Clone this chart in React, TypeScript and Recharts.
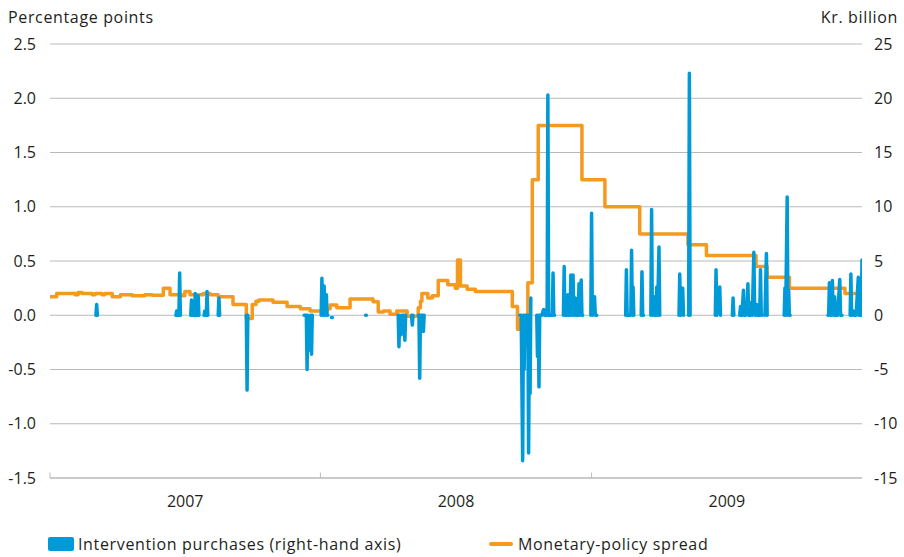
import {
  ComposedChart,
  Line,
  XAxis,
  YAxis,
  CartesianGrid,
  ReferenceLine,
} from 'recharts';

// x values are days counted from 1 January 2007
const years = ['2007', '2008', '2009'];
const yearStarts = [0, 365, 731, 1096];

const leftTicks = [-1.5, -1, -0.5, 0, 0.5, 1, 1.5, 2, 2.5];
const rightTicks = [-15, -10, -5, 0, 5, 10, 15, 20, 25];

// Monetary-policy spread, percentage points (step series)
const spreadDays = [
  0, 9, 34, 38, 43, 57, 61, 70, 74, 84, 95, 111, 128, 138, 153, 162, 178, 182,
  189, 207, 216, 227, 247, 265, 273, 278, 282, 301, 320, 338, 351, 374, 378,
  387, 405, 436, 443, 450, 459, 468, 482, 497, 500, 502, 510, 516, 524, 537,
  547, 550, 554, 563, 574, 624, 631, 635, 640, 645, 651, 659, 718, 749, 796,
  861, 886, 953, 968, 998, 1073, 1096,
];
const spreadValues = [
  0.17, 0.2, 0.19, 0.21, 0.2, 0.19, 0.2, 0.19, 0.2, 0.17, 0.19, 0.18, 0.19,
  0.185, 0.25, 0.19, 0.18, 0.22, 0.19, 0.2, 0.19, 0.17, 0.1, -0.03, 0.1, 0.13,
  0.14, 0.12, 0.08, 0.06, 0.04, 0.06, 0.095, 0.07, 0.15, 0.125, 0.03, 0.04,
  0.01, 0.04, -0.01, 0.07, 0.13, 0.2, 0.16, 0.18, 0.32, 0.28, 0.25, 0.51,
  0.27, 0.24, 0.22, 0.08, -0.13, -0.04, -0.08, 0.3, 1.25, 1.75, 1.25, 1.0,
  0.75, 0.65, 0.55, 0.45, 0.35, 0.25, 0.2, 0.2,
];

// Intervention purchases, kr. billion; each inner list is one run of trading days
const interventionSegments: [number, number][][] = [
  [[62, 0], [63, 1.0], [64, 0]],
  [[170, 0], [171, 0.4], [172, 0], [174, 0], [175, 3.9], [176, 0]],
  [[190, 0], [191, 1.4], [192, 0], [195, 0], [196, 2.0], [197, 0], [199, 0], [200, 1.8], [201, 0]],
  [[208, 0], [209, 0.4], [210, 0.4], [211, 0], [212, 2.2], [213, 0]],
  [[227, 0], [228, 1.6], [229, 0]],
  [[265, 0], [266, -6.9], [267, 0]],
  [[343, 0], [344, 0], [346, 0], [347, -5.0], [348, 0], [350, -2.6], [351, -3.2], [352, 0], [353, -3.6], [354, 0]],
  [[366, 0], [367, 3.4], [368, 0.2], [369, 0], [370, 2.7], [371, 0], [373, 1.9], [374, 0], [375, 0]],
  [[380, -0.2], [381, -0.2]],
  [[426, 0], [427, 0]],
  [[470, 0], [471, -2.9], [472, 0], [474, -1.8], [475, 0], [478, 0], [479, -2.3], [480, 0]],
  [[488, 0], [489, -0.9], [490, 0]],
  [[497, 0], [498, 0], [499, -5.8], [500, 0], [503, 0], [504, -1.5], [505, 0]],
  [[634, 0], [636, 0], [638, -13.4], [639, 0], [640, -5.0], [641, 0], [645, 0], [646, -12.7], [647, -2.0], [648, -7.2], [649, 1.6]],
  [[657, 0], [658, -3.8], [659, 0], [660, -6.6], [661, 0], [664, 0], [666, 0.5], [667, 0.5], [668, 0], [671, 0], [672, 20.3], [673, 0], [678, 0], [679, 3.9], [680, 0], [681, 0]],
  [[693, 0], [694, 4.5], [695, 0], [698, 0], [699, 1.9], [700, 0], [702, 0], [703, 3.7], [704, 0], [706, 3.7], [707, 0], [709, 1.6], [710, 0], [713, 0], [714, 2.9], [715, 0], [717, 3.25], [718, 0], [719, 0]],
  [[730, 0], [731, 9.4], [732, 0], [735, 1.7], [736, 0], [738, 0]],
  [[777, 0], [778, 4.2], [779, 0], [781, 0], [784, 0], [785, 6.0], [786, 0], [787, 2.6], [788, 0]],
  [[798, 0], [799, 4.0], [800, 0], [801, 0]],
  [[811, 0], [812, 9.75], [813, 0], [815, 1.7], [816, 0], [818, 0], [819, 2.6], [820, 0], [822, 6.3], [823, 0]],
  [[849, 0], [850, 3.8], [851, 0], [854, 2.5], [855, 0]],
  [[862, 0], [863, 22.3], [864, 0]],
  [[898, 0], [899, 4.2], [900, 0], [904, 2.6], [905, 0]],
  [[921, 0], [922, 1.6], [923, 0]],
  [[931, 0], [932, 0.8], [933, 0.8], [934, 0], [936, 2.3], [937, 0], [939, 0], [941, 0.8], [942, 2.9], [943, 0], [946, 0], [947, 1.2], [948, 0], [950, 5.8], [951, 1.0], [952, 0], [954, 1.0], [955, 0], [958, 0], [959, 4.2], [960, 0], [961, 0]],
  [[965, 0], [967, 5.7], [968, 0]],
  [[991, 0], [992, 2.5], [993, 0], [995, 10.9], [996, 0], [997, 2.3], [998, 0], [999, 0]],
  [[1050, 0], [1051, 0], [1052, 3.0], [1053, 0], [1055, 0], [1056, 3.2], [1057, 0], [1059, 1.7], [1060, 0], [1063, 0], [1066, 3.3], [1067, 0], [1069, 0]],
  [[1080, 0], [1081, 3.8], [1082, 0], [1084, 0.4], [1085, 0], [1088, 0], [1091, 3.5], [1092, 0], [1095, 0], [1096, 5.1]],
];

const BLUE = '#009ad8';
const ORANGE = '#f49a1e';
const GRID = '#b9b9b9';
const TEXT = '#231f20';
const FONT = "'Open Sans', 'Noto Sans', sans-serif";
const LABEL_SPACING = '0.65px';

const spreadData = spreadDays.map((day, i) => ({ day, spread: spreadValues[i] }));

const interventionData = interventionSegments.flatMap((seg) => [
  ...seg.map(([day, value]) => ({ day, purchases: value as number | null })),
  { day: seg[seg.length - 1][0] + 0.5, purchases: null },
]);

const yearMids = years.map((_, i) => (yearStarts[i] + yearStarts[i + 1]) / 2);

export default function App() {
  return (
    <div
      style={{
        position: 'absolute',
        left: 0,
        top: 0,
        width: 904,
        height: 557,
        background: '#fff',
        fontFamily: FONT,
        color: TEXT,
      }}
    >
      <ComposedChart
        width={904}
        height={557}
        margin={{ top: 44, right: 0, bottom: 49, left: 0 }}
      >
        <CartesianGrid
          yAxisId="left"
          horizontal
          vertical={false}
          stroke={GRID}
          strokeWidth={1}
        />
        <XAxis
          dataKey="day"
          type="number"
          domain={[0, 1096]}
          ticks={yearMids}
          tickFormatter={(v: number) => years[yearMids.indexOf(v)] ?? ''}
          tickLine={false}
          axisLine={{ stroke: GRID }}
          tickSize={6}
          tickMargin={12}
          height={30}
          allowDataOverflow
          tick={{ fill: TEXT, fontSize: 16, fontFamily: FONT }}
        />
        <YAxis
          yAxisId="left"
          orientation="left"
          width={50}
          domain={[-1.5, 2.5]}
          ticks={leftTicks}
          tickFormatter={(v: number) => v.toFixed(1)}
          axisLine={false}
          tickLine={false}
          tickMargin={8}
          allowDataOverflow
          tick={{ fill: TEXT, fontSize: 16, fontFamily: FONT }}
        />
        <YAxis
          yAxisId="right"
          orientation="right"
          width={42}
          domain={[-15, 25]}
          ticks={rightTicks}
          axisLine={false}
          tickLine={false}
          tickMargin={6}
          allowDataOverflow
          tick={{ fill: TEXT, fontSize: 16, fontFamily: FONT, textAnchor: 'start' }}
        />
        {yearStarts.slice(0, 3).map((d) => (
          <ReferenceLine
            key={d}
            yAxisId="left"
            segment={[
              { x: d, y: -1.5 },
              { x: d, y: -1.45 },
            ]}
            stroke={GRID}
            strokeWidth={1}
          />
        ))}
        <Line
          yAxisId="left"
          data={spreadData}
          dataKey="spread"
          type="stepAfter"
          stroke={ORANGE}
          strokeWidth={3.5}
          strokeLinejoin="round"
          dot={false}
          activeDot={false}
          isAnimationActive={false}
        />
        <Line
          yAxisId="right"
          data={interventionData}
          dataKey="purchases"
          type="linear"
          stroke={BLUE}
          strokeWidth={3.5}
          strokeLinecap="round"
          strokeLinejoin="round"
          connectNulls={false}
          dot={false}
          activeDot={false}
          isAnimationActive={false}
        />
      </ComposedChart>

      <div style={{ position: 'absolute', left: 8, top: 6, fontSize: 16, letterSpacing: LABEL_SPACING }}>
        Percentage points
      </div>
      <div style={{ position: 'absolute', right: 6, top: 6, fontSize: 16, letterSpacing: LABEL_SPACING }}>
        Kr. billion
      </div>

      <div
        style={{
          position: 'absolute',
          left: 48,
          top: 537,
          width: 26,
          height: 14,
          background: BLUE,
          borderRadius: 2,
        }}
      />
      <div style={{ position: 'absolute', left: 78, top: 533, fontSize: 16, letterSpacing: LABEL_SPACING }}>
        Intervention purchases (right-hand axis)
      </div>
      <div
        style={{
          position: 'absolute',
          left: 489,
          top: 542,
          width: 24,
          height: 3.5,
          background: ORANGE,
          borderRadius: 2,
        }}
      />
      <div style={{ position: 'absolute', left: 518, top: 533, fontSize: 16, letterSpacing: LABEL_SPACING }}>
        Monetary-policy spread
      </div>
    </div>
  );
}
